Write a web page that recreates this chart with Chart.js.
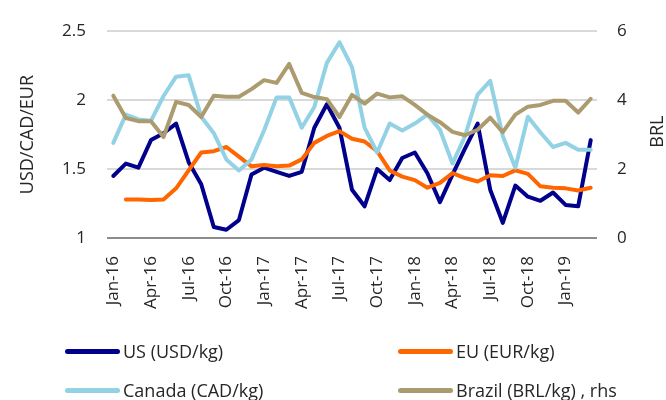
<!DOCTYPE html>
<html>
<head>
<meta charset="utf-8">
<script src="https://cdn.jsdelivr.net/npm/chart.js"></script>
<style>
    body { margin: 0; background: #fff; }
    #wrap { position: relative; width: 666px; height: 400px; overflow: hidden; }
    .lg-item { position: absolute; display: flex; align-items: center; font: 18px "Open Sans"; color: #262626; white-space: nowrap; }
    .lg-line { width: 55px; height: 5px; border-radius: 3px; margin-right: 3px; }
</style>
</head>
<body>
<div id="wrap">
    <canvas id="chart" width="666" height="400"></canvas>
</div>
<script>
// monthly labels Jan-16 .. Mar-19
const months = ["Jan", "Feb", "Mar", "Apr", "May", "Jun", "Jul", "Aug", "Sep", "Oct", "Nov", "Dec"];
const labels = [];
for (let i = 0; i < 39; i++) {
    labels.push(months[i % 12] + "-" + (16 + Math.floor(i / 12)));
}

const series = [
    {
        name: "US (USD/kg)", color: "#00008c", axis: "y", order: 3, legendX: 65, legendY: 352,
        values: [1.45, 1.54, 1.51, 1.71, 1.76, 1.83, 1.55, 1.39, 1.08, 1.06, 1.13, 1.46, 1.51, 1.48, 1.45, 1.48, 1.80, 1.97, 1.80, 1.35,
            1.23, 1.50, 1.42, 1.58, 1.62, 1.47, 1.26, 1.46, 1.65, 1.83, 1.35, 1.11, 1.38, 1.30, 1.27, 1.33, 1.24, 1.23, 1.71]
    },
    {
        name: "EU (EUR/kg)", color: "#ff6600", axis: "y", order: 2, legendX: 398, legendY: 352,
        values: [null, 1.28, 1.28, 1.275, 1.28, 1.36, 1.49, 1.62, 1.63, 1.66, 1.59, 1.52, 1.53, 1.52, 1.525, 1.57, 1.69, 1.74, 1.775, 1.72,
            1.70, 1.63, 1.49, 1.445, 1.42, 1.365, 1.40, 1.47, 1.435, 1.41, 1.455, 1.45, 1.49, 1.465, 1.375, 1.365, 1.36, 1.345, 1.365]
    },
    {
        name: "Canada (CAD/kg)", color: "#92d2e4", axis: "y", order: 1, legendX: 65, legendY: 391,
        values: [1.69, 1.895, 1.86, 1.85, 2.03, 2.17, 2.18, 1.88, 1.76, 1.57, 1.49, 1.57, 1.78, 2.02, 2.02, 1.80, 1.95, 2.27, 2.42, 2.24,
            1.80, 1.62, 1.83, 1.78, 1.83, 1.895, 1.785, 1.54, 1.74, 2.04, 2.14, 1.74, 1.51, 1.88, 1.765, 1.66, 1.69, 1.64, 1.64]
    },
    {
        name: "Brazil (BRL/kg) , rhs", color: "#ab9b6f", axis: "y1", order: 0, legendX: 398, legendY: 391,
        values: [4.13, 3.48, 3.39, 3.39, 2.93, 3.95, 3.86, 3.51, 4.13, 4.10, 4.10, 4.32, 4.58, 4.50, 5.05, 4.21, 4.09, 4.03, 3.51, 4.15,
            3.90, 4.19, 4.08, 4.11, 3.86, 3.58, 3.36, 3.08, 2.98, 3.14, 3.49, 3.07, 3.58, 3.81, 3.86, 3.98, 3.98, 3.64, 4.04]
    }
];

const FONT = "Open Sans";
const TEXT = "#262626";

// Chart.js puts a right-hand title top-to-bottom, the reference reads bottom-to-top
const rhsTitle = {
    id: "rhsTitle",
    afterDraw(chart) {
        const ctx = chart.ctx;
        const area = chart.chartArea;
        ctx.save();
        ctx.translate(chart.scales.y1.right - 8, (area.top + area.bottom) / 2 - 3);
        ctx.rotate(-Math.PI / 2);
        ctx.font = "18px \"" + FONT + "\"";
        ctx.fillStyle = TEXT;
        ctx.textAlign = "center";
        ctx.textBaseline = "middle";
        ctx.fillText("BRL", 0, 0);
        ctx.restore();
    }
};

function buildLegend() {
    const wrap = document.getElementById("wrap");
    for (const s of series) {
        const item = document.createElement("div");
        item.className = "lg-item";
        item.style.left = s.legendX + "px";
        item.style.top = (s.legendY - 13) + "px";
        const line = document.createElement("span");
        line.className = "lg-line";
        line.style.background = s.color;
        const text = document.createElement("span");
        text.textContent = s.name;
        item.appendChild(line);
        item.appendChild(text);
        wrap.appendChild(item);
    }
}

function draw() {
    const ctx = document.getElementById("chart").getContext("2d");
    new Chart(ctx, {
        type: "line",
        data: {
            labels: labels,
            datasets: series.map(s => ({
                label: s.name,
                data: s.values,
                yAxisID: s.axis,
                order: s.order,
                borderColor: s.color,
                backgroundColor: s.color,
                borderWidth: 4,
                borderJoinStyle: "round",
                borderCapStyle: "round",
                pointRadius: 0,
                tension: 0,
                spanGaps: false
            }))
        },
        options: {
            responsive: false,
            animation: false,
            devicePixelRatio: 1,
            layout: { padding: { top: 21, left: 0, right: 0, bottom: 0 } },
            plugins: {
                legend: { display: false },
                tooltip: { enabled: false }
            },
            scales: {
                x: {
                    offset: true,
                    grid: { display: false },
                    border: { display: false },
                    afterFit: (scale) => { scale.height = 162; },
                    ticks: {
                        autoSkip: false,
                        maxRotation: 90,
                        minRotation: 90,
                        padding: 10,
                        color: TEXT,
                        font: { family: FONT, size: 17 },
                        callback: function (value, index) {
                            return index % 3 === 0 ? this.getLabelForValue(value) : "";
                        }
                    }
                },
                y: {
                    position: "left",
                    min: 1,
                    max: 2.5,
                    afterFit: (scale) => { scale.width = 107; },
                    border: { display: false },
                    grid: {
                        drawTicks: false,
                        lineWidth: 2,
                        color: (c) => c.tick && c.tick.value === 1 ? "#8c8c8c" : "#d9d9d9"
                    },
                    ticks: {
                        stepSize: 0.5,
                        padding: 21,
                        color: TEXT,
                        font: { family: FONT, size: 17 },
                        callback: (value) => String(value)
                    },
                    title: {
                        display: true,
                        text: "USD/CAD/EUR",
                        color: TEXT,
                        font: { family: FONT, size: 18 },
                        padding: { top: 17, bottom: 0 }
                    }
                },
                y1: {
                    position: "right",
                    min: 0,
                    max: 6,
                    afterFit: (scale) => { scale.width = 69; },
                    border: { display: false },
                    grid: { display: false, drawTicks: false },
                    ticks: {
                        stepSize: 2,
                        padding: 20,
                        color: TEXT,
                        font: { family: FONT, size: 17 }
                    }
                }
            }
        },
        plugins: [rhsTitle]
    });
}

buildLegend();
document.fonts.load("18px \"" + FONT + "\"").then(draw, draw);
</script>
</body>
</html>
